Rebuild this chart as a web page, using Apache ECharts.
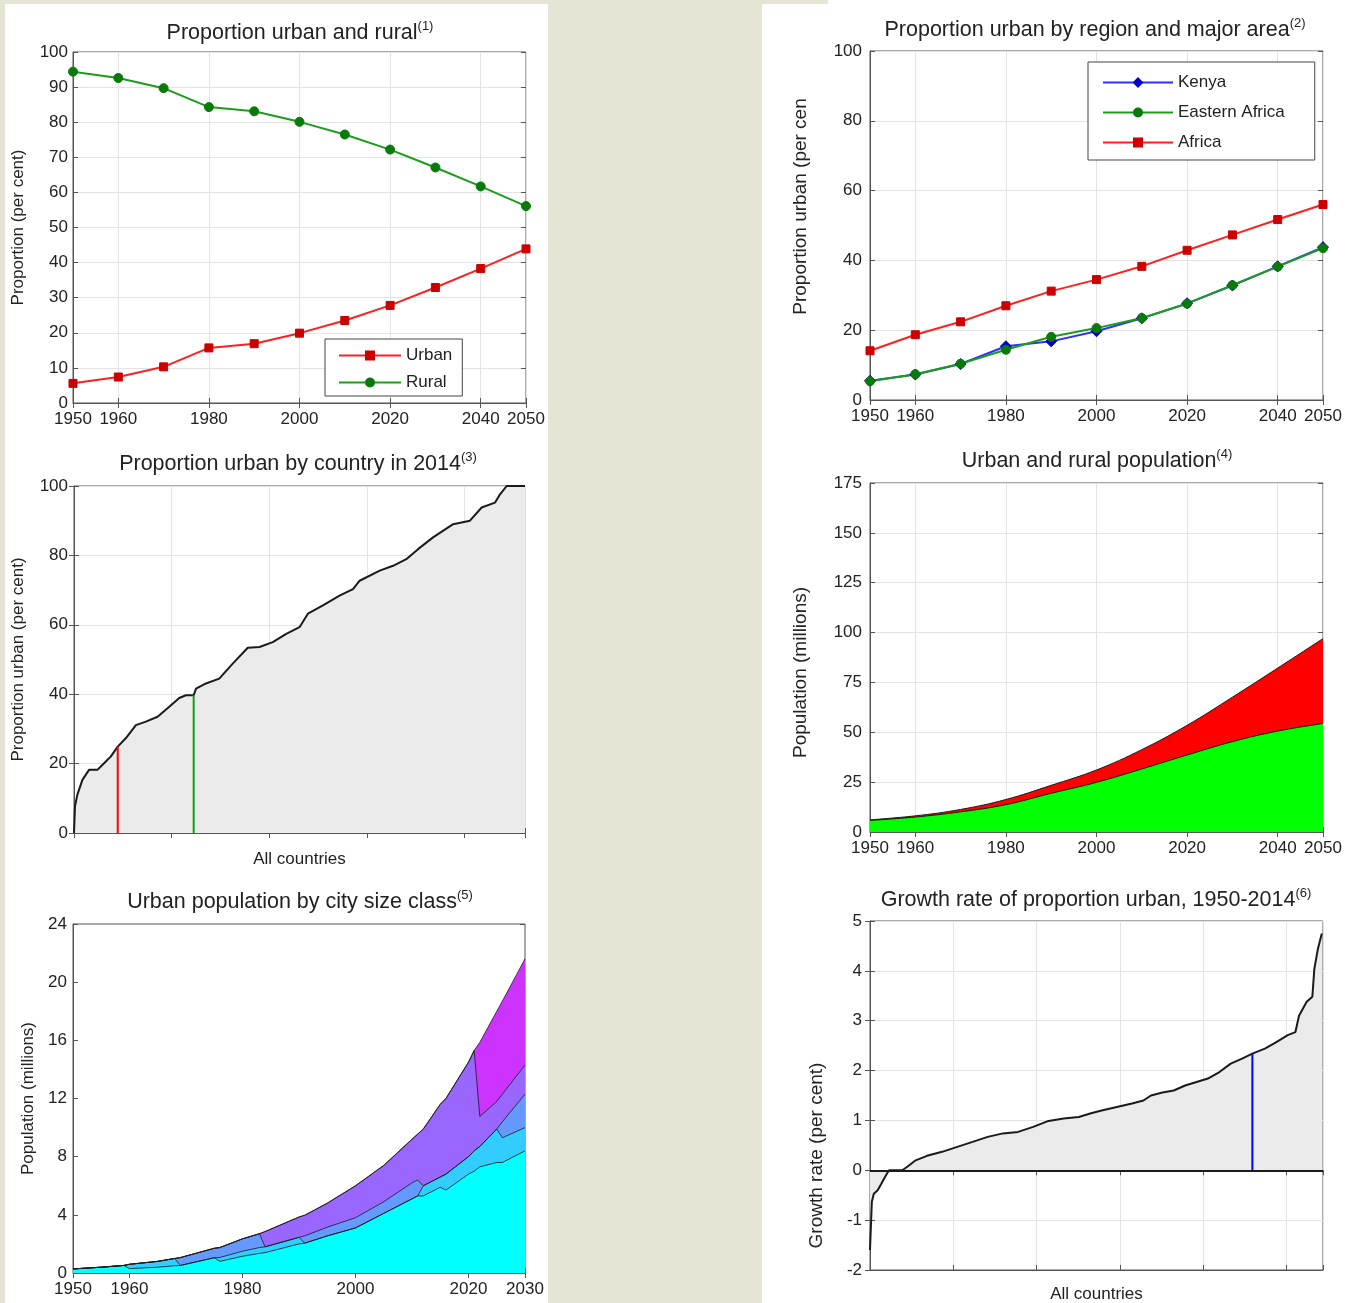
<!DOCTYPE html>
<html>
<head>
<meta charset="utf-8">
<title>Kenya urbanization profile</title>
<script src="https://cdn.jsdelivr.net/npm/echarts@6.0.0/dist/echarts.min.js"></script>
<style>
    html, body { margin: 0; padding: 0; background: #e6e4d4; }
    #main { width: 1355px; height: 1303px; }
</style>
</head>
<body>
<div id="main"></div>
<script>
// ---- data ----
var years = [1950, 1960, 1970, 1980, 1990, 2000, 2010, 2020, 2030, 2040, 2050];
var yearTicks = [1950, 1960, 1980, 2000, 2020, 2040, 2050];

// (1) proportion urban / rural, Kenya
var urbanPct = [5.6, 7.4, 10.3, 15.7, 16.9, 19.9, 23.5, 27.8, 32.9, 38.3, 43.9];
var ruralPct = [94.4, 92.6, 89.7, 84.3, 83.1, 80.1, 76.5, 72.2, 67.1, 61.7, 56.1];

// (2) proportion urban by region
var kenyaPct = [5.5, 7.3, 10.3, 15.4, 16.8, 19.7, 23.4, 27.7, 32.8, 38.3, 43.8];
var eastAfricaPct = [5.4, 7.4, 10.4, 14.4, 18.1, 20.6, 23.5, 27.6, 32.9, 38.2, 43.5];
var africaPct = [14.1, 18.7, 22.4, 27.0, 31.2, 34.5, 38.3, 42.9, 47.3, 51.7, 56.0];

// (3) proportion urban by country in 2014 (countries sorted)
var countryRank = [0, 0.5, 1.7, 4.3, 7.7, 12, 15.4, 18.8, 22.4, 26.5, 31.7, 36.8, 42.8, 48.8, 53.9,
    57.3, 61.3, 62.5, 67.6, 74.4, 81.3, 89, 95, 101.8, 108.7, 115.5, 119.8, 127.5, 136, 142.9,
    146.3, 156.6, 163.4, 170.2, 176.2, 183.9, 194.2, 202.8, 208.8, 215.6, 218.2, 221.6, 231];
var countryUrbanPct = [0, 7.7, 11, 15.3, 18.2, 18.2, 20.1, 22, 24.9, 27.3, 31.1, 32.1, 33.5, 36.4, 38.9,
    39.7, 39.7, 41.6, 43.1, 44.5, 48.8, 53.4, 53.6, 55, 57.4, 59.3, 63.2, 65.6, 68.4, 70.3,
    72.7, 75.6, 77, 78.9, 81.8, 85.2, 89, 90, 93.8, 95.2, 97.6, 100, 100];
var kenyaRank2014 = 22.4, kenyaUrban2014 = 24.9;
var refRank2014 = 61.3, refUrban2014 = 39.7;

// (4) urban and rural population (millions)
var ruralPop = [5.8, 7.5, 10.1, 13.7, 19.4, 24.9, 31.6, 38.6, 45.3, 50.6, 54.4];
var urbanPop = [0.3, 0.6, 1.2, 2.6, 4.0, 6.2, 9.7, 14.9, 22.3, 31.6, 42.6];

// (5) urban population by city size class (millions)
var classYears = [1950, 1955, 1959, 1960, 1965, 1968, 1969, 1975, 1976, 1980, 1983, 1984, 1990, 1991,
    1995, 2000, 2005, 2010, 2011, 2012, 2015, 2016, 2020, 2021, 2022, 2025, 2026, 2030];
var classYearTicks = [1950, 1960, 1980, 2000, 2020, 2030];
var under300k = [0.28, 0.4, 0.52, 0.3, 0.4, 0.5, 0.52, 1.05, 0.8, 1.15, 1.35, 1.4, 2.0, 2.05,
    2.55, 3.1, 4.1, 5.1, 5.3, 5.3, 5.9, 5.7, 6.8, 7.0, 7.3, 7.6, 7.6, 8.4];
var from300to500k = [0, 0, 0, 0.3, 0.4, 0.5, 0, 0, 0.27, 0.35, 0.4, 0.4, 0.45, 0,
    0, 0, 0, 0, 0, 0.7, 0.7, 1.1, 1.2, 1.4, 1.4, 2.3, 1.7, 1.6];
var from500kto1m = [0, 0, 0, 0, 0, 0, 0.54, 0.65, 0.68, 0.85, 0.95, 0, 0, 0.5,
    0.6, 0.7, 0.8, 1.1, 1.1, 0, 0, 0, 0, 0, 0, 0, 1.1, 2.3];
var from1to5m = [0, 0, 0, 0, 0, 0, 0, 0, 0, 0, 0, 1.05, 1.4, 1.42,
    1.65, 2.2, 2.5, 3.0, 3.15, 3.9, 5.0, 5.2, 6.5, 6.9, 2.06, 1.9, 1.9, 2.0];
var from5to10m = [0, 0, 0, 0, 0, 0, 0, 0, 0, 0, 0, 0, 0, 0,
    0, 0, 0, 0, 0, 0, 0, 0, 0, 0, 5.1, 6.2, 6.4, 7.3];

// (6) growth rate of proportion urban 1950-2014 (countries sorted)
var growthRank = [0, 1.1, 2.3, 4.6, 6.8, 9.1, 11.4, 19.4, 22.8, 27.4, 34.2, 43.3, 52.4, 61.6, 70.7,
    79.8, 88.9, 98, 107.2, 116.3, 125.4, 132.2, 139.1, 148.2, 157.3, 164.2, 168.7, 175.6, 182.4,
    189.2, 196.1, 202.9, 209.8, 216.6, 223.4, 229.6, 237.1, 244, 250.8, 255.4, 257.6, 259.9,
    262.2, 265.6, 266.8, 269, 271.3];
var growthRate = [-1.6, -0.63, -0.47, -0.4, -0.27, -0.13, 0, 0, 0.08, 0.2, 0.29, 0.37, 0.47, 0.57, 0.67,
    0.74, 0.77, 0.87, 0.99, 1.04, 1.07, 1.14, 1.2, 1.27, 1.34, 1.4, 1.5, 1.56, 1.6,
    1.7, 1.77, 1.84, 1.97, 2.14, 2.24, 2.34, 2.44, 2.57, 2.71, 2.77, 3.1, 3.24,
    3.38, 3.48, 4.04, 4.45, 4.75];
var kenyaGrowthRank = 229.6, kenyaGrowthRate = 2.34;

// ---- helpers ----
var FONT = 'Liberation Sans, Arial, sans-serif';
var TEXT = '#222';
var BG = '#e6e4d4';

function pairs(xs, ys) {
    var out = [];
    for (var i = 0; i < xs.length; i++) {
        out.push([xs[i], ys[i]]);
    }
    return out;
}

// running totals of several layers (bottom layer first)
function cumulate(layers) {
    var out = [];
    var run = layers[0].map(function () { return 0; });
    layers.forEach(function (layer) {
        run = run.map(function (v, i) { return +(v + layer[i]).toFixed(3); });
        out.push(run);
    });
    return out;
}

function merge(dst, src) {
    for (var k in src) {
        if (src[k] && typeof src[k] === 'object' && !Array.isArray(src[k]) &&
            dst[k] && typeof dst[k] === 'object') {
            merge(dst[k], src[k]);
        } else {
            dst[k] = src[k];
        }
    }
    return dst;
}

// matlab-ish boxed value axis
function axis(gridIndex, extra) {
    return merge({
        type: 'value',
        gridIndex: gridIndex,
        nameLocation: 'middle',
        nameMoveOverlap: false,
        axisLine: { show: true, onZero: false, lineStyle: { color: '#555', width: 1 } },
        axisTick: { show: true, inside: true, length: 5, lineStyle: { color: '#555' } },
        axisLabel: {
            color: TEXT, fontSize: 17, fontFamily: FONT, margin: 8,
            formatter: function (v) { return String(v); }
        },
        splitLine: { show: true, lineStyle: { color: '#e3e3e3', width: 1 } },
        nameTextStyle: { color: TEXT, fontSize: 17, fontFamily: FONT }
    }, extra || {});
}

// tick marks only, on the opposite side of the box
function mirror(cfg, position) {
    var m = JSON.parse(JSON.stringify(cfg));
    m.position = position;
    m.name = '';
    m.axisLabel = { show: false };
    m.axisLine = { show: false };
    m.splitLine = { show: false };
    return m;
}

function title(main, note, x, top) {
    return {
        text: '{t|' + main + '}{s|(' + note + ')}',
        left: x,
        top: top,
        textAlign: 'center',
        padding: 0,
        textStyle: {
            rich: {
                t: { fontSize: 21.5, fontWeight: 'normal', lineHeight: 26, color: TEXT, fontFamily: FONT },
                s: { fontSize: 13, fontWeight: 'normal', verticalAlign: 'top', color: TEXT, fontFamily: FONT }
            }
        }
    };
}

function grid(left, top, width, height) {
    return {
        left: left, top: top, width: width, height: height,
        show: true, borderColor: '#555', borderWidth: 1,
        containLabel: false, outerBoundsMode: 'none'
    };
}

function legend(names, left, top, padding, itemWidth, itemGap) {
    return {
        data: names,
        orient: 'vertical',
        left: left,
        top: top,
        padding: padding,
        itemWidth: itemWidth,
        itemHeight: 10,
        itemGap: itemGap,
        borderColor: '#444',
        borderWidth: 1,
        backgroundColor: '#fff',
        selectedMode: false,
        textStyle: { color: TEXT, fontSize: 17, fontFamily: FONT }
    };
}

function markerLine(name, color, symbol, symbolColor, size, idx, values) {
    return {
        name: name,
        type: 'line',
        xAxisIndex: idx,
        yAxisIndex: idx,
        data: pairs(years, values),
        symbol: symbol,
        symbolSize: size,
        lineStyle: { color: color, width: 2 },
        itemStyle: { color: symbolColor, borderColor: symbolColor, borderWidth: 1 },
        z: 3
    };
}

// filled area from zero up to a running total, painted top layer first
function filledTo(name, idx, xs, tops, color, smooth, edgeWidth) {
    return {
        name: name,
        type: 'line',
        xAxisIndex: idx,
        yAxisIndex: idx,
        data: pairs(xs, tops),
        symbol: 'none',
        smooth: smooth,
        lineStyle: { color: '#1a1a1a', width: edgeWidth },
        areaStyle: { color: color, opacity: 1 }
    };
}

var popTops = cumulate([ruralPop, urbanPop]);
var classTops = cumulate([under300k, from300to500k, from500kto1m, from1to5m, from5to10m]);

// x axes (bottom) and y axes (left) of the six panels
var xAxes = [
    axis(0, { min: 1950, max: 2050, axisTick: { customValues: yearTicks }, axisLabel: { customValues: yearTicks } }),
    axis(1, { min: 1950, max: 2050, axisTick: { customValues: yearTicks }, axisLabel: { customValues: yearTicks } }),
    axis(2, { min: 0, max: 231, interval: 50, axisLabel: { show: false }, name: 'All countries', nameGap: 18 }),
    axis(3, { min: 1950, max: 2050, axisTick: { customValues: yearTicks }, axisLabel: { customValues: yearTicks } }),
    axis(4, { min: 1950, max: 2030, splitLine: { show: false },
        axisTick: { customValues: classYearTicks }, axisLabel: { customValues: classYearTicks } }),
    axis(5, { min: 0, max: 272, interval: 50, axisLabel: { show: false }, name: 'All countries', nameGap: 16 })
];
var yAxes = [
    axis(0, { min: 0, max: 100, interval: 10, name: 'Proportion (per cent)', nameGap: 46, axisLabel: { margin: 5 } }),
    axis(1, { min: 0, max: 100, interval: 20, name: 'Proportion urban (per cen', nameGap: 60,
        nameTextStyle: { fontSize: 19, padding: [0, 0, 0, 38] } }),
    axis(2, { min: 0, max: 100, interval: 20, name: 'Proportion urban (per cent)', nameGap: 47, axisLabel: { margin: 6 } }),
    axis(3, { min: 0, max: 175, interval: 25, name: 'Population (millions)', nameGap: 60,
        nameTextStyle: { fontSize: 19, padding: [0, 30, 0, 0] } }),
    axis(4, { min: 0, max: 24, interval: 4, name: 'Population (millions)', nameGap: 36,
        splitLine: { show: false }, axisLabel: { margin: 6 } }),
    axis(5, { min: -2, max: 5, interval: 1, name: 'Growth rate (per cent)', nameGap: 44,
        nameTextStyle: { fontSize: 19, padding: [0, 120, 0, 0] } })
];

var chart = echarts.init(document.getElementById('main'));

var option = {
    backgroundColor: BG,
    animation: false,
    // white panels, plus the beige gutter that clips the last tick labels
    graphic: [
        { type: 'rect', silent: true, z: -10, shape: { x: 5, y: 4, width: 543, height: 1299 }, style: { fill: '#fff' } },
        { type: 'rect', silent: true, z: -10, shape: { x: 762, y: 4, width: 593, height: 1299 }, style: { fill: '#fff' } },
        { type: 'rect', silent: true, z: -10, shape: { x: 828, y: 0, width: 527, height: 5 }, style: { fill: '#fff' } },
        { type: 'rect', silent: true, z: 100, shape: { x: 548, y: 0, width: 214, height: 1303 }, style: { fill: BG } }
    ],
    title: [
        title('Proportion urban and rural', 1, 300, 20),
        title('Proportion urban by region and major area', 2, 1095, 17),
        title('Proportion urban by country in 2014', 3, 298, 451),
        title('Urban and rural population', 4, 1097, 448),
        title('Urban population by city size class', 5, 300, 889),
        title('Growth rate of proportion urban, 1950-2014', 6, 1096, 887)
    ],
    legend: [
        legend(['Urban', 'Rural'], 325, 339, [8, 10, 5, 13], 62, 10),
        legend(['Kenya', 'Eastern Africa', 'Africa'], 1088, 62, [12, 30, 9, 14], 70, 13)
    ],
    grid: [
        grid(73, 52, 453, 351),
        grid(870, 51, 453, 349),
        grid(74, 486, 451, 347),
        grid(870, 483, 453, 349),
        grid(73, 924, 452, 349),
        grid(870, 921, 453, 349)
    ],
    xAxis: xAxes.concat(xAxes.map(function (a) { return mirror(a, 'top'); })),
    yAxis: yAxes.concat(yAxes.map(function (a) { return mirror(a, 'right'); })),
    series: [
        // (1)
        markerLine('Urban', '#ff1f1f', 'rect', '#cc0000', 8, 0, urbanPct),
        markerLine('Rural', '#1a9e1a', 'circle', '#0a7a0a', 9, 0, ruralPct),
        // (2)
        markerLine('Kenya', '#2f2fff', 'diamond', '#0000c8', 11, 1, kenyaPct),
        markerLine('Eastern Africa', '#1a9e1a', 'circle', '#0a7a0a', 9, 1, eastAfricaPct),
        markerLine('Africa', '#ff1f1f', 'rect', '#cc0000', 8, 1, africaPct),
        // (3)
        {
            type: 'line', xAxisIndex: 2, yAxisIndex: 2,
            data: pairs(countryRank, countryUrbanPct),
            symbol: 'none',
            lineStyle: { color: '#1a1a1a', width: 2 },
            areaStyle: { color: '#ebebeb', opacity: 1 }
        },
        {
            type: 'line', xAxisIndex: 2, yAxisIndex: 2, symbol: 'none', z: 4,
            data: [[kenyaRank2014, 0], [kenyaRank2014, kenyaUrban2014]],
            lineStyle: { color: '#ff0000', width: 2 }
        },
        {
            type: 'line', xAxisIndex: 2, yAxisIndex: 2, symbol: 'none', z: 4,
            data: [[refRank2014, 0], [refRank2014, refUrban2014]],
            lineStyle: { color: '#13a013', width: 2 }
        },
        // (4) urban on top of rural
        filledTo('Urban population', 3, years, popTops[1], '#ff0000', 0.4, 1),
        filledTo('Rural population', 3, years, popTops[0], '#00ff00', 0.4, 1),
        // (5) largest class on top, painted first
        filledTo('5 to 10 million', 4, classYears, classTops[4], '#cc33ff', false, 0.8),
        filledTo('1 to 5 million', 4, classYears, classTops[3], '#9966ff', false, 0.8),
        filledTo('500 000 to 1 million', 4, classYears, classTops[2], '#6699ff', false, 0.8),
        filledTo('300 000 to 500 000', 4, classYears, classTops[1], '#33ccff', false, 0.8),
        filledTo('Fewer than 300 000', 4, classYears, classTops[0], '#00ffff', false, 0.8),
        // (6)
        {
            type: 'line', xAxisIndex: 5, yAxisIndex: 5,
            data: pairs(growthRank, growthRate),
            symbol: 'none',
            lineStyle: { color: '#1a1a1a', width: 2 },
            areaStyle: { color: '#ebebeb', opacity: 1 },
            markLine: {
                silent: true, symbol: 'none', label: { show: false },
                lineStyle: { color: '#1a1a1a', width: 2, type: 'solid' },
                data: [{ yAxis: 0 }]
            }
        },
        {
            type: 'line', xAxisIndex: 5, yAxisIndex: 5, symbol: 'none', z: 4,
            data: [[kenyaGrowthRank, 0], [kenyaGrowthRank, kenyaGrowthRate]],
            lineStyle: { color: '#0000ff', width: 2 }
        }
    ]
};

chart.setOption(option);
</script>
</body>
</html>
